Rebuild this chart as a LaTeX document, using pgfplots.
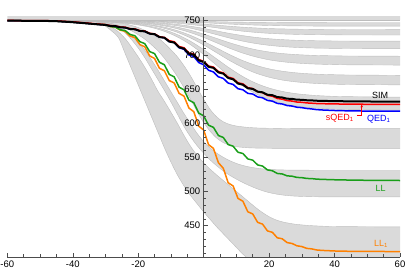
\documentclass[border=0pt]{standalone}
\usepackage{pgfplots}
\pgfplotsset{compat=1.18}
\usepackage{pgfplotstable}
\usepgfplotslibrary{fillbetween}
\usetikzlibrary{arrows.meta}
\usepackage{fontspec}
\setmainfont{Liberation Sans}
\definecolor{bandfill}{gray}{0.855}
\definecolor{bandedge}{gray}{0.74}
\definecolor{llgreen}{rgb}{0.1,0.62,0.1}
\definecolor{llorange}{rgb}{1,0.5,0}

% upper bands (T2..T7)
\pgfplotstableread{
x t2u t2l t3u t3l t4u t4l t5u t5l t6u t6l t7u t7l
-60 750.0 750.0 750.0 750.0 750.0 750.0 750.0 750.0 750.0 750.0 750.0 750.0
-44 750.0 750.0 750.0 749.9 749.9 749.9 749.9 749.8 749.8 749.8 749.7 749.7
-40 750.0 750.0 749.9 749.9 749.9 749.8 749.8 749.7 749.7 749.6 749.5 749.5
-36 750.0 749.9 749.9 749.9 749.8 749.7 749.7 749.6 749.5 749.4 749.3 749.1
-32 750.0 749.9 749.9 749.8 749.7 749.5 749.4 749.3 749.1 749.0 748.8 748.6
-28 749.9 749.9 749.8 749.6 749.5 749.3 749.1 748.8 748.6 748.3 748.0 747.6
-24 749.9 749.8 749.6 749.4 749.1 748.8 748.5 748.1 747.7 747.2 746.7 746.2
-20 749.9 749.6 749.4 749.0 748.6 748.1 747.5 746.9 746.2 745.5 744.7 743.8
-16 749.8 749.4 749.0 748.4 747.7 746.9 746.1 745.1 743.9 742.9 741.5 740.1
-12 749.6 749.0 748.5 747.5 746.4 745.1 743.8 742.3 740.5 738.8 736.7 734.4
-8 749.5 748.5 747.6 746.2 744.5 742.5 740.5 738.1 735.4 732.9 729.6 726.1
-4 749.2 747.8 746.5 744.4 741.9 739.0 736.0 732.5 728.5 724.7 719.9 714.8
0 748.9 747.0 745.1 742.1 738.7 734.5 730.4 725.5 719.8 714.5 707.7 700.5
4 748.5 746.0 743.5 739.5 735.0 729.5 724.0 717.5 710.0 703.0 694.0 684.5
8 748.1 745.0 741.9 736.9 731.3 724.5 717.6 709.5 700.2 691.5 680.3 668.5
12 747.8 744.2 740.5 734.6 728.1 720.0 712.0 702.5 691.5 681.3 668.1 654.2
16 747.5 743.5 739.4 732.8 725.5 716.5 707.5 696.9 684.6 673.1 658.4 642.9
20 747.4 743.0 738.5 731.5 723.6 713.9 704.2 692.7 679.5 667.2 651.4 634.6
24 747.2 742.6 738.0 730.6 722.3 712.1 701.9 689.9 676.1 663.1 646.5 628.9
28 747.1 742.4 737.6 730.0 721.4 710.9 700.5 688.1 673.8 660.5 643.3 625.2
32 747.1 742.2 737.4 729.6 720.9 710.2 699.5 686.9 672.3 658.8 641.3 622.8
36 747.1 742.1 737.2 729.4 720.5 709.7 698.9 686.2 671.4 657.7 640.0 621.4
40 747.0 742.1 737.1 729.2 720.3 709.5 698.6 685.7 670.9 657.0 639.2 620.4
44 747.0 742.1 737.1 729.1 720.2 709.3 698.3 685.4 670.5 656.6 638.8 619.9
60 747.0 742.0 737.0 729.0 720.0 709.0 698.0 685.0 670.0 656.0 638.0 619.0
}\upperdata

% lower bands (T8..T10)
\pgfplotstableread{
x t8u t8l t9u t9l t10u t10l
-60 750.0 750.0 750.0 750.0 750.0 750.0
-40 750.0 749.9 750.0 749.8 750.0 749.8
-36 749.9 749.6 749.7 749.3 749.6 749.4
-34 749.8 749.2 749.4 748.8 749.2 748.5
-32 749.5 748.5 748.8 747.5 748.2 746.5
-30 749.0 747.3 747.8 746.0 745.5 742.0
-28 748.2 745.5 745.5 743.5 740.5 734.5
-26 747.0 743.0 742.0 739.0 733.5 725.0
-24 745.3 739.5 736.5 732.0 724.0 702.0
-22 743.0 735.0 729.0 722.0 711.0 679.0
-20 740.0 729.5 719.0 710.0 697.0 656.0
-18 736.0 723.0 707.0 696.0 682.0 633.0
-16 731.0 715.0 693.0 680.0 665.0 610.0
-14 725.0 706.0 678.0 664.0 647.0 587.0
-12 717.0 695.0 662.0 648.0 632.0 564.0
-10 707.5 682.0 646.0 631.0 616.0 543.0
-8 697.0 668.0 630.0 613.0 599.5 524.0
-6 684.0 652.0 614.0 595.0 582.0 508.0
-4 669.0 635.0 599.5 580.0 566.0 494.0
-2 652.0 617.0 585.0 567.0 553.0 482.0
0 635.0 601.0 573.0 556.0 542.0 470.0
2 620.0 588.0 563.5 546.0 532.5 459.0
4 609.0 578.0 556.0 537.5 524.0 448.0
6 602.0 571.5 550.0 530.0 516.0 438.0
8 598.0 567.5 545.0 523.5 508.0 428.0
10 595.8 565.5 541.0 518.0 500.0 418.0
12 594.5 564.5 538.0 513.0 492.0 408.0
14 593.6 563.8 535.8 508.5 484.0 400.0
16 593.0 563.5 534.2 504.5 476.0 392.0
18 592.7 563.3 533.0 501.0 469.0 387.0
20 592.5 563.2 532.3 498.3 463.0 383.0
22 592.4 563.1 531.8 496.3 458.5 380.0
24 592.2 563.1 531.5 494.8 455.5 378.0
26 592.1 563.0 531.3 493.8 453.5 377.0
28 592.0 563.0 531.2 493.1 452.0 376.0
30 592.0 563.0 531.1 492.7 451.0 375.5
32 592.0 563.0 531.1 492.4 450.2 375.3
34 592.0 563.0 531.0 492.2 449.6 375.1
36 592.0 563.0 531.0 492.1 449.2 375.0
40 592.0 563.0 531.0 492.0 448.6 375.0
60 592.0 563.0 531.0 492.0 448.0 375.0
}\lowerdata

\begin{document}
\begin{tikzpicture}
\begin{axis}[
  at={(0pt,0pt)}, anchor=south west,
  scale only axis, width=392.7pt, height=240.4pt,
  xmin=-60, xmax=60, ymin=404, ymax=756,
  axis x line=bottom, axis y line=center,
  axis line style={-, black!70, line width=0.6pt},
  axis on top,
  xtick={-60,-40,-20,0,20,40,60},
  xticklabels={-60,-40,-20,,20,40,60},
  minor xtick={-55,-50,-45,-35,-30,-25,-15,-10,-5,5,10,15,25,30,35,45,50,55},
  ytick={450,500,550,600,650,700,750},
  minor ytick={410,420,430,440,460,470,480,490,510,520,530,540,560,570,580,590,610,620,630,640,660,670,680,690,710,720,730,740},
  tick align=inside,
  major tick length=4pt, minor tick length=2.5pt,
  tick style={black!70, line width=0.5pt},
  /pgf/number format/assume math mode=true,
  ticklabel style={font=\fontsize{9.5}{10}\selectfont},
  clip=true,
]
% top band
\addplot[fill=bandfill, draw=none] coordinates {(-60,751) (60,751) (60,760) (-60,760) (-60,751)};
% named paths (upper)
\pgfplotsinvokeforeach{t2u,t2l,t3u,t3l,t4u,t4l,t5u,t5l,t6u,t6l,t7u,t7l}{
  \addplot[name path=#1, draw=none, smooth] table[x=x,y=#1]{\upperdata};
}
\pgfplotsinvokeforeach{t8u,t8l,t9u,t9l,t10u,t10l}{
  \addplot[name path=#1, draw=none, smooth] table[x=x,y=#1]{\lowerdata};
}
% fills
\pgfplotsinvokeforeach{2,3,4,5,6,7,8,9,10}{
  \addplot[bandfill] fill between[of=t#1u and t#1l];
}
% edges
\pgfplotsinvokeforeach{t2u,t2l,t3u,t3l,t4u,t4l,t5u,t5l,t6u,t6l,t7u,t7l}{
  \addplot[bandedge, line width=0.4pt, smooth] table[x=x,y=#1]{\upperdata};
}
\pgfplotsinvokeforeach{t8u,t8l,t9u,t9l,t10u,t10l}{
  \addplot[bandedge, line width=0.4pt, smooth] table[x=x,y=#1]{\lowerdata};
}
\addplot[bandedge, line width=0.4pt] coordinates {(-60,751) (60,751)};

% LL_1 (orange)
\addplot[llorange, line width=1.5pt, line join=round] coordinates {
(-60,750) (-50,749.8) (-45,749.3) (-40,747.8) (-35,745.8) (-32,744.6)
(-30,744.0) (-28.5,741.5) (-27,740.7) (-25.5,736.1) (-24,734.6) (-22.5,727.6) (-21,725.2) (-19.5,715.0) (-18,711.8) (-16.5,698.5) (-15,694.7) (-13.5,680.3) (-12,676.7) (-10.5,662.3) (-9,658.8) (-7.5,643.6) (-6,639.5) (-4.5,622.1) (-3,616.7) (-1.5,595.5) (0,590.0) (1.5,568.5) (3,563.0) (4.5,542.1) (6,533.9) (7.5,512.7) (9,508.0) (10.5,489.7) (12,485.6) (13.5,470.2) (15,467.0) (16.5,454.7) (18,452.1) (19.5,442.2) (21,440.1) (22.5,432.1) (24,430.7) (25.5,425.1) (27,423.8) (28.5,420.4) (30,419.3) (31.5,416.6) (33,415.9) (34.5,414.3) (36,413.7) (40,412.8) (45,412.3) (50,412.1) (60,412)};
% LL (green)
\addplot[llgreen, line width=1.5pt, line join=round] coordinates {
(-60,750) (-50,749.8) (-45,749.3) (-40,747.8) (-35,745.8) (-32,744.6)
(-30,744.0) (-28.5,741.5) (-27,740.6) (-25.5,736.7) (-24,735.5) (-22.5,729.9) (-21,727.9) (-19.5,719.3) (-18,716.4) (-16.5,704.8) (-15,701.8) (-13.5,689.1) (-12,685.5) (-10.5,671.3) (-9,667.8) (-7.5,652.7) (-6,648.8) (-4.5,633.7) (-3,629.8) (-1.5,614.7) (0,610.7) (1.5,597.0) (3,593.8) (4.5,581.9) (6,579.0) (7.5,568.6) (9,566.2) (10.5,557.4) (12,555.5) (13.5,547.6) (15,545.8) (16.5,538.8) (18,537.1) (19.5,531.5) (21,530.3) (22.5,526.3) (24,525.6) (25.5,522.8) (27,522.3) (28.5,520.5) (30,520.2) (31.5,519.0) (33,518.8) (34.5,518.0) (36,517.7) (40,517.1) (45,516.6) (50,516.3) (60,516)};
% QED_1 (blue)
\addplot[blue, line width=1.5pt, line join=round] coordinates {
(-60,750) (-50,749.8) (-45,749.3) (-40,747.8) (-35,745.8) (-32,744.5)
(-30,743.8) (-28.5,742.3) (-27,742.0) (-25.5,740.3) (-24,739.9) (-22.5,737.8) (-21,737.4) (-19.5,734.9) (-18,734.4) (-16.5,731.0) (-15,730.2) (-13.5,726.0) (-12,725.0) (-10.5,719.4) (-9,718.0) (-7.5,710.5) (-6,708.1) (-4.5,699.8) (-3,697.5) (-1.5,688.7) (0,685.5) (1.5,677.5) (3,674.9) (4.5,667.8) (6,665.5) (7.5,658.6) (9,656.7) (10.5,650.4) (12,648.8) (13.5,643.6) (15,642.6) (16.5,638.4) (18,637.1) (19.5,633.3) (21,632.2) (22.5,628.9) (24,628.0) (25.5,625.8) (27,625.0) (28.5,623.3) (30,622.7) (31.5,621.5) (33,620.8) (34.5,619.8) (36,619.3) (40,618.5) (45,617.9) (50,617.7) (60,617.5)};
% sQED_1 (red)
\addplot[red, line width=1.5pt, line join=round] coordinates {
(-60,750.3) (-50,750.2) (-45,749.7) (-40,748.3) (-35,746.3) (-32,745.0)
(-30,744.3) (-28.5,742.8) (-27,742.5) (-25.5,740.8) (-24,740.4) (-22.5,738.3) (-21,737.9) (-19.5,735.4) (-18,734.9) (-16.5,731.5) (-15,730.7) (-13.5,726.5) (-12,725.5) (-10.5,720.6) (-9,719.2) (-7.5,712.2) (-6,710.3) (-4.5,702.8) (-3,701.2) (-1.5,693.1) (0,690.7) (1.5,683.7) (3,682.1) (4.5,675.5) (6,673.7) (7.5,667.3) (9,665.4) (10.5,659.1) (12,657.5) (13.5,651.9) (15,650.6) (16.5,646.1) (18,644.6) (19.5,640.6) (21,639.4) (22.5,636.1) (24,635.1) (25.5,633.0) (27,632.3) (28.5,630.9) (30,630.5) (31.5,629.6) (33,629.2) (34.5,628.7) (36,628.5) (40,628.1) (45,627.8) (50,627.6) (60,627.4)};
% SIM (black)
\addplot[black, line width=2pt, line join=round] coordinates {
(-60,750) (-50,749.8) (-45,749.3) (-40,747.8) (-35,745.8) (-32,744.5)
(-30,743.8) (-28.5,742.3) (-27,742.0) (-25.5,740.3) (-24,739.9) (-22.5,737.8) (-21,737.4) (-19.5,734.9) (-18,734.4) (-16.5,731.0) (-15,730.2) (-13.5,726.0) (-12,725.0) (-10.5,719.4) (-9,718.0) (-7.5,711.0) (-6,709.1) (-4.5,701.6) (-3,700.0) (-1.5,691.9) (0,689.5) (1.5,682.5) (3,680.9) (4.5,674.3) (6,672.5) (7.5,666.1) (9,664.2) (10.5,657.9) (12,656.3) (13.5,651.1) (15,650.1) (16.5,646.1) (18,645.1) (19.5,641.6) (21,640.9) (22.5,638.1) (24,637.6) (25.5,635.8) (27,635.5) (28.5,634.3) (30,634.2) (31.5,633.5) (33,633.3) (34.5,632.8) (36,632.6) (40,632.2) (45,631.9) (50,631.7) (60,631.5)};

% labels
\node[font=\fontsize{9}{10}\selectfont] at (axis cs:53.9,641) {SIM};
\node[red, font=\fontsize{9}{10}\selectfont] at (axis cs:41.6,607) {sQED\textsubscript{1}};
\draw[red, line width=0.5pt, -{Stealth[length=3pt,width=2.5pt]}] (axis cs:46.8,611.8) -- (axis cs:48.3,611.8) -- (axis cs:48.3,627.5);
\node[blue, font=\fontsize{9}{10}\selectfont] at (axis cs:53.5,605.2) {QED\textsubscript{1}};
\node[llgreen, font=\fontsize{9}{10}\selectfont] at (axis cs:54.1,504) {LL};
\node[llorange, font=\fontsize{9}{10}\selectfont] at (axis cs:54.2,423.7) {LL\textsubscript{1}};
\node[anchor=west, xshift=3pt] at (axis cs:60,404) {$\phi$};
\node[anchor=base, yshift=6pt, font=\fontsize{9.5}{10}\selectfont] at (axis cs:0,756) {<\textit{P}\textsubscript{+}>[MeV]};
\end{axis}
\pgfresetboundingbox
\path[use as bounding box] (-7.3pt,-15pt) rectangle (407.7pt,257pt);
\end{tikzpicture}
\end{document}
